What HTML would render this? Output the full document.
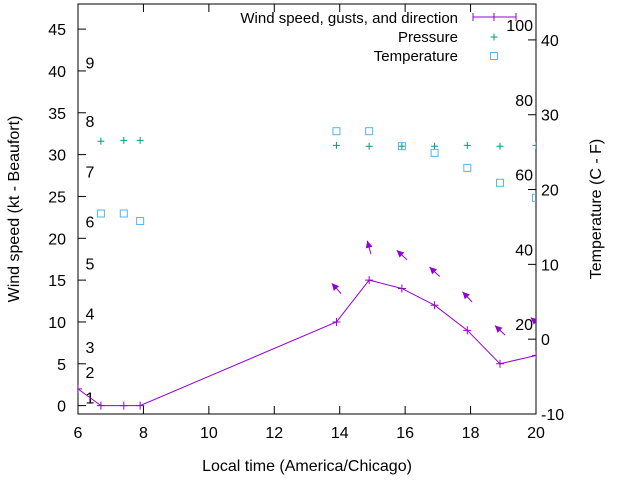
<!DOCTYPE html>
<html><head><meta charset="utf-8"><style>
body{margin:0;background:#fff}
svg{display:block;font-family:"Liberation Sans",sans-serif}
</style></head><body>
<svg id="chart" width="640" height="480"></svg>
<script>
const xTicks=[6,8,10,12,14,16,18,20];
const yTicks=[0,5,10,15,20,25,30,35,40,45];
const y2Ticks=[-10,0,10,20,30,40];
const beaufortLabels=[["1",1],["2",4],["3",7],["4",11],["5",17],["6",22],["7",28],["8",34],["9",41]];
const pressureLabels=[["20",2],["40",12],["60",22],["80",32],["100",42]];
const windX=[6,6.7,7.4,7.9,13.9,14.9,15.9,16.9,17.9,18.9,20];
const windY=[2,0,0,0,10,15,14,12,9,5,6];
const gustX=[13.9,14.9,15.9,16.9,17.9,18.9,20];
const gustY=[14,18.9,18,16,13,9,10];
const gustDir=[318,345,313,313,317,313,310];
const presX=[6.7,7.4,7.9,13.9,14.9,15.9,16.9,17.9,18.9,20];
const presY=[31.6,31.7,31.7,31.1,31,31,31,31.1,31,31.1];
const tempX=[6.7,7.4,7.9,13.9,14.9,15.9,16.9,17.9,18.9,20];
const tempY=[16.8,16.8,15.8,27.8,27.8,25.8,24.9,22.9,20.9,18.9];

const L=78,R=536,T=4,B=414;
const X=v=>L+(v-6)/14*(R-L);
const Y=v=>B-(v+1)/49*(B-T);
const Y2=v=>B-(v+10)/54.8*(B-T);
const NS="http://www.w3.org/2000/svg";
const svg=document.getElementById('chart');
function mk(tag,attrs,parent){const e=document.createElementNS(NS,tag);for(const k in attrs)e.setAttribute(k,attrs[k]);(parent||svg).appendChild(e);return e;}
function txt(s,x,y,anchor,parent,extra){const e=mk('text',Object.assign({x:x,y:y,'text-anchor':anchor||'middle','font-size':16,fill:'#000'},extra||{}),parent);e.textContent=s;return e;}

const axes=mk('g',{});


const frame=mk('rect',{x:L,y:T,width:R-L,height:B-T,fill:'none',stroke:'#000','stroke-width':1},axes);


xTicks.forEach(v=>{mk('line',{x1:X(v),x2:X(v),y1:B,y2:B-8,stroke:'#000'},axes);mk('line',{x1:X(v),x2:X(v),y1:T,y2:T+8,stroke:'#000'},axes);
 const t=txt(String(v),X(v),B+24,'middle',axes);});
yTicks.forEach(v=>{mk('line',{x1:L,x2:L+8,y1:Y(v),y2:Y(v),stroke:'#000'},axes);
 const t=txt(String(v),L-12,Y(v)+6,'end',axes);});
y2Ticks.forEach(v=>{mk('line',{x1:R,x2:R-8,y1:Y2(v),y2:Y2(v),stroke:'#000'},axes);
 const t=txt(String(v),R+5,Y2(v)+6,'start',axes);});
beaufortLabels.forEach(b=>{const t=txt(b[0],90,Y(b[1])+6,'middle',axes);});
pressureLabels.forEach(b=>{const t=txt(b[0],533,Y2(b[1])+6,'end',axes);});
const xt=txt('Local time (America/Chicago)',(L+R)/2,471,'middle');

const yt=txt('Wind speed (kt - Beaufort)',0,0,'middle',svg,{transform:'translate(19,209) rotate(-90)'});

const y2t=txt('Temperature (C - F)',0,0,'middle',svg,{transform:'translate(601,209) rotate(-90)'});


const clip=mk('clipPath',{id:'pc'});mk('rect',{x:L,y:T,width:R-L,height:B-T},clip);
const plot=mk('g',{'clip-path':'url(#pc)'});

const PUR='#9400d3',GRN='#009e73',BLU='#56b4e9';
const wl=mk('polyline',{points:windX.map((x,i)=>X(x)+','+Y(windY[i])).join(' '),fill:'none',stroke:PUR,'stroke-width':1},plot);

windX.forEach((x,i)=>{const g=mk('path',{d:`M${X(x)-4},${Y(windY[i])}h8M${X(x)},${Y(windY[i])-4}v8`,stroke:PUR},plot);
 });
gustX.forEach((x,i)=>{const cx=X(x),cy=Y(gustY[i]),a=gustDir[i]*Math.PI/180,dx=Math.sin(a),dy=-Math.cos(a),h=7;
 const hx=cx+dx*h,hy=cy+dy*h,tx=cx-dx*h,ty=cy-dy*h;
 const g=mk('g',{},plot);
 mk('line',{x1:tx,y1:ty,x2:hx,y2:hy,stroke:PUR},g);
 const px=-dy,py=dx,bx=hx-dx*7,by=hy-dy*7;
 mk('polygon',{points:`${hx},${hy} ${bx+px*3.5},${by+py*3.5} ${bx-px*3.5},${by-py*3.5}`,fill:PUR},g);});
presX.forEach((x,i)=>{const g=mk('path',{d:`M${X(x)-3.5},${Y(presY[i])}h7M${X(x)},${Y(presY[i])-3.5}v7`,stroke:GRN},plot);
 });
tempX.forEach((x,i)=>{const r=mk('rect',{x:X(x)-3.5,y:Y2(tempY[i])-3.5,width:7,height:7,fill:'none',stroke:BLU},plot);
 });

const lg=mk('g',{});
[['Wind speed, gusts, and direction',23],['Pressure',42],['Temperature',61]].forEach(e=>{const t=txt(e[0],458,e[1],'end',lg,{'font-size':15});});
mk('path',{d:'M473,17h43M473,13v8M494,13v8M516,13v8',stroke:PUR,fill:'none'},lg);
mk('path',{d:'M490.5,37h7M494,33.5v7',stroke:GRN},lg);
mk('rect',{x:490.5,y:52.5,width:7,height:7,fill:'none',stroke:BLU},lg);
</script>
</body></html>
